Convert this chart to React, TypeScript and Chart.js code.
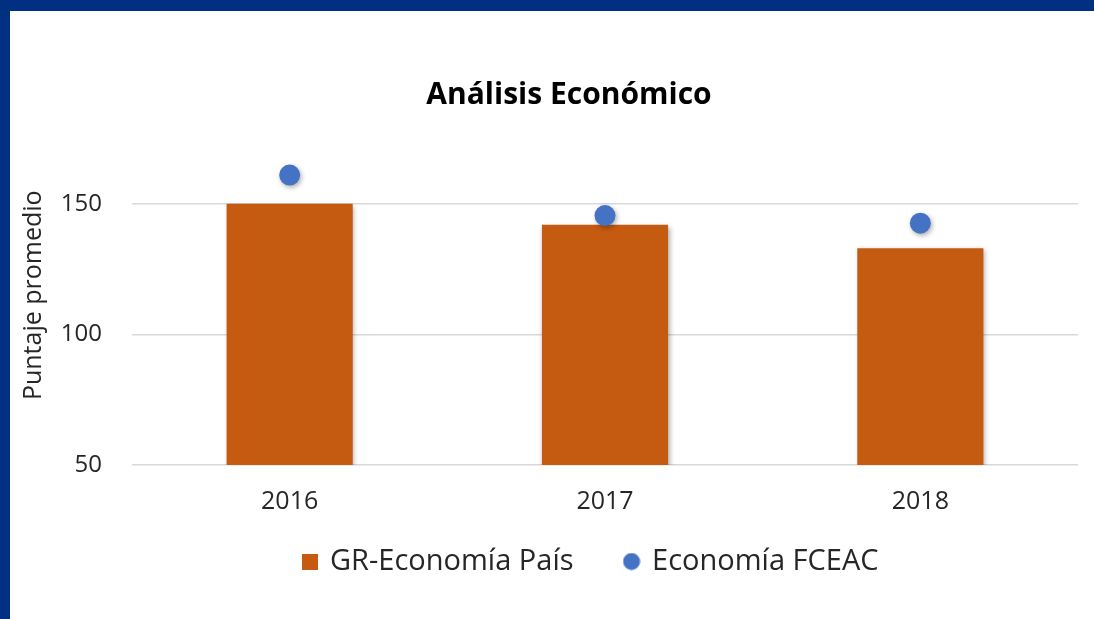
import React, { useEffect, useRef } from 'react';
import { Chart, registerables } from 'chart.js';

Chart.register(...registerables);

const categories = ['2016', '2017', '2018'];
const paisValues = [150, 142, 133];
const fceacValues = [161, 145.5, 142.6];
const yTicks = [50, 100, 150];
const seriesNames = ['GR-Economía País', 'Economía FCEAC'];
const chartTitle = 'Análisis Económico';
const yAxisTitle = 'Puntaje promedio';

const FONT = '"Open Sans", Lato, sans-serif';
const ORANGE = '#C55A11';
const BLUE = '#4472C4';
const FRAME = '#003082';
const TEXT = '#262626';
const LEGEND_SHIFT = 47;
const LEGEND_DY = -24;
const TITLE_SHIFT = 25;

const shadowPlugin = {
  id: 'softShadow',
  beforeDatasetDraw(chart: any) {
    const c = chart.ctx;
    c.save();
    c.shadowColor = 'rgba(0,0,0,0.32)';
    c.shadowBlur = 5;
    c.shadowOffsetX = 1.5;
    c.shadowOffsetY = 2;
  },
  afterDatasetDraw(chart: any) {
    chart.ctx.restore();
  },
};

const shiftPlugin = {
  id: 'shiftBlocks',
  afterLayout(chart: any) {
    const lg = chart.legend;
    if (lg) {
      lg.left += LEGEND_SHIFT;
      lg.right += LEGEND_SHIFT;
      lg.top += LEGEND_DY;
      lg.bottom += LEGEND_DY;
    }
    const t = chart.titleBlock;
    if (t) {
      t.left += TITLE_SHIFT;
      t.right += TITLE_SHIFT;
    }
  },
};

export default function App() {
  const ref = useRef<HTMLCanvasElement>(null);

  useEffect(() => {
    if (!ref.current) return;
    const square = document.createElement('canvas');
    square.width = 16;
    square.height = 16;
    const sc = square.getContext('2d')!;
    sc.fillStyle = ORANGE;
    sc.fillRect(0, 0, 16, 16);

    const dot = document.createElement('canvas');
    dot.width = 18;
    dot.height = 18;
    const dc = dot.getContext('2d')!;
    dc.fillStyle = BLUE;
    dc.beginPath();
    dc.arc(9, 9, 8.5, 0, Math.PI * 2);
    dc.fill();

    const tickFont = { family: FONT, size: 24 };

    const chart = new Chart(ref.current, {
      type: 'bar',
      data: {
        labels: categories,
        datasets: [
          {
            type: 'bar',
            label: seriesNames[0],
            data: paisValues,
            backgroundColor: ORANGE,
            borderWidth: 0,
            barPercentage: 0.4,
            categoryPercentage: 1,
            order: 1,
          } as any,
          {
            type: 'line',
            label: seriesNames[1],
            data: fceacValues,
            showLine: false,
            pointRadius: 10.5,
            pointHoverRadius: 10.5,
            pointBackgroundColor: BLUE,
            pointBorderWidth: 0,
            backgroundColor: BLUE,
            borderColor: BLUE,
            order: 0,
          } as any,
        ],
      },
      options: {
        responsive: false,
        animation: false,
        devicePixelRatio: 1,
        layout: { padding: { left: 0, right: 16, top: 0, bottom: 9 } },
        plugins: {
          title: {
            display: true,
            text: chartTitle,
            color: '#000',
            font: { family: FONT, size: 30, weight: 'bold' },
            padding: { top: 66, bottom: 12.5 },
          },
          legend: {
            position: 'bottom',
            labels: {
              usePointStyle: true,
              boxWidth: 12,
              boxHeight: 16,
              padding: 52,
              color: TEXT,
              font: { family: FONT, size: 29 },
              sort: (a: any, b: any) => a.datasetIndex - b.datasetIndex,
              generateLabels: (ch: any) => {
                const items = (Chart.defaults.plugins.legend.labels as any).generateLabels(ch);
                items.forEach((it: any) => {
                  it.pointStyle = it.datasetIndex === 0 ? square : dot;
                });
                return items;
              },
            },
          },
          tooltip: { enabled: false },
        },
        scales: {
          x: {
            grid: { display: false },
            border: { display: false },
            ticks: { color: TEXT, font: { family: FONT, size: 25 }, padding: 14 },
            afterFit: (s: any) => {
              s.height = 54;
            },
          },
          y: {
            min: 50,
            max: 180,
            ticks: { stepSize: 50, padding: 30, color: TEXT, font: tickFont },
            afterBuildTicks: (s: any) => {
              s.ticks = yTicks.map((v) => ({ value: v }));
            },
            grid: { color: '#D9D9D9', lineWidth: 1.5, drawTicks: false },
            border: { display: false },
            title: {
              display: true,
              text: yAxisTitle,
              color: TEXT,
              font: { family: FONT, size: 25 },
              padding: { top: 9, bottom: 0 },
            },
            afterFit: (s: any) => {
              s.width = 122;
            },
          },
        },
      } as any,
      plugins: [shadowPlugin, shiftPlugin],
    });
    return () => chart.destroy();
  }, []);

  return (
    <div
      style={{
        position: 'fixed',
        left: 0,
        top: 0,
        width: 1094,
        height: 619,
        background: '#fff',
        boxSizing: 'border-box',
        borderTop: `11px solid ${FRAME}`,
        borderLeft: `10px solid ${FRAME}`,
      }}
    >
      <canvas ref={ref} width={1084} height={608} style={{ display: 'block' }} />
    </div>
  );
}
